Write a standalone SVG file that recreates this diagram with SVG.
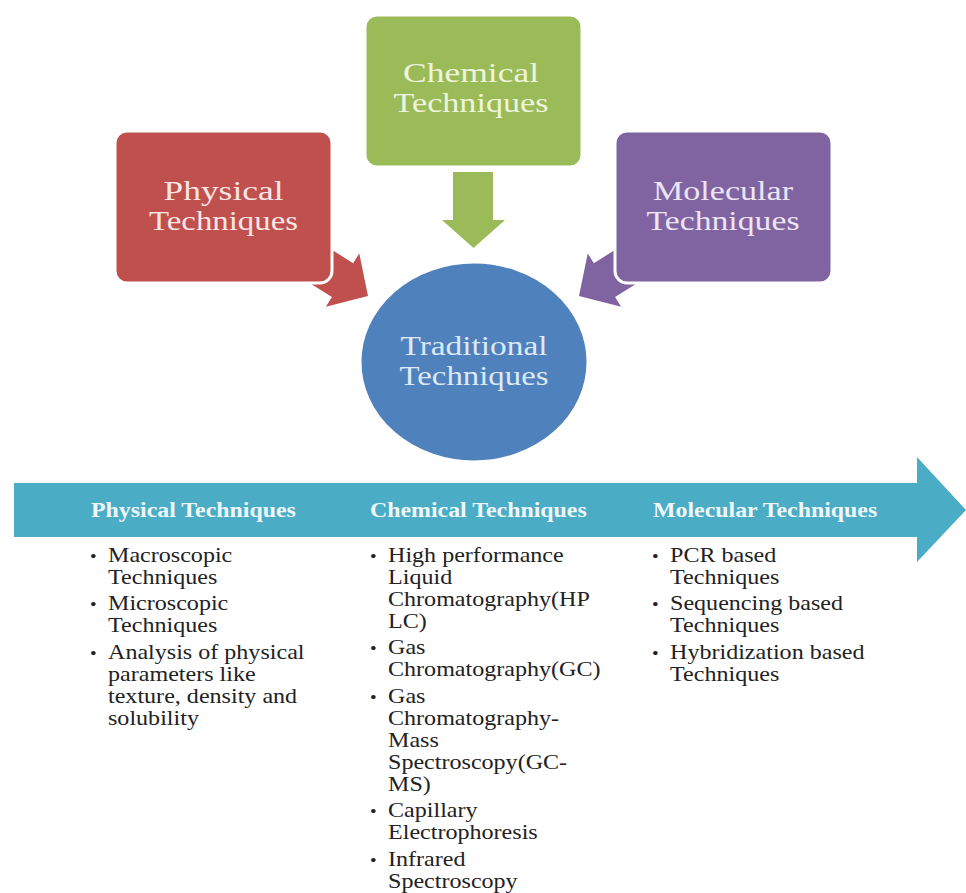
<svg xmlns="http://www.w3.org/2000/svg" width="966" height="893" viewBox="0 0 966 893">
<style>
.lbl{font-family:"Liberation Serif","Times New Roman",serif;font-size:28px;text-anchor:middle}
.hdr{font-family:"Liberation Serif","Times New Roman",serif;font-size:21.3px;font-weight:bold;fill:#eef8fb}
.lst{font-family:"Liberation Serif","Times New Roman",serif;font-size:21.5px;fill:#222}
.bul{font-size:17px}
.box{stroke:#ffffff;stroke-width:3}
</style>
<rect width="966" height="893" fill="#ffffff"/>
<g id="connectors">
  <polygon id="arrow-physical" fill="#c0504d" points="-110,-20 -30,-20 -30,-31.5 0,0 -30,31.5 -30,20 -110,20" transform="translate(368,296) rotate(32)"/>
  <polygon id="arrow-chemical" fill="#9bbb59" points="453,172 493,172 493,220 505,220 473.5,248 442,220 453,220"/>
  <polygon id="arrow-molecular" fill="#8064a2" points="-110,-20 -30,-20 -30,-31.5 0,0 -30,31.5 -30,20 -110,20" transform="translate(579,296) rotate(148)"/>
</g>
<g id="node-physical">
  <rect class="box" x="115" y="131" width="217" height="152" rx="12" fill="#c0504d"/>
  <text class="lbl" fill="#fbe6e6"><tspan x="223.5" y="200" textLength="120" lengthAdjust="spacingAndGlyphs">Physical</tspan><tspan x="223.5" y="230" textLength="149" lengthAdjust="spacingAndGlyphs">Techniques</tspan></text>
</g>
<g id="node-chemical">
  <rect class="box" x="365" y="15" width="217" height="152" rx="12" fill="#9bbb59"/>
  <text class="lbl" fill="#eef5dc"><tspan x="471" y="82" textLength="136" lengthAdjust="spacingAndGlyphs">Chemical</tspan><tspan x="471" y="112" textLength="155" lengthAdjust="spacingAndGlyphs">Techniques</tspan></text>
</g>
<g id="node-molecular">
  <rect class="box" x="615" y="131" width="217" height="152" rx="12" fill="#8064a2"/>
  <text class="lbl" fill="#ede4f5"><tspan x="723" y="200" textLength="140" lengthAdjust="spacingAndGlyphs">Molecular</tspan><tspan x="723" y="230" textLength="153" lengthAdjust="spacingAndGlyphs">Techniques</tspan></text>
</g>
<g id="node-traditional">
  <ellipse class="box" cx="474" cy="362" rx="114" ry="100" fill="#4f81bd"/>
  <text class="lbl" fill="#dde9f7"><tspan x="474" y="355" textLength="147" lengthAdjust="spacingAndGlyphs">Traditional</tspan><tspan x="474" y="385" textLength="149" lengthAdjust="spacingAndGlyphs">Techniques</tspan></text>
</g>
<g id="timeline">
  <polygon fill="#4bacc6" points="14,483 917,483 917,457 966,510 917,562 917,537 14,537"/>
  <text class="hdr" transform="translate(91,517) scale(1.12,1)">Physical Techniques</text>
  <text class="hdr" transform="translate(370,517) scale(1.12,1)">Chemical Techniques</text>
  <text class="hdr" transform="translate(653,517) scale(1.12,1)">Molecular Techniques</text>
</g>
<g id="list-physical">
  <text class="lst" transform="translate(108,0) scale(1.12,1)">
    <tspan class="bul" x="-16" y="562">•</tspan><tspan x="0" y="562">Macroscopic</tspan>
    <tspan x="0" y="584">Techniques</tspan>
    <tspan class="bul" x="-16" y="610.5">•</tspan><tspan x="0" y="610.5">Microscopic</tspan>
    <tspan x="0" y="632.5">Techniques</tspan>
    <tspan class="bul" x="-16" y="659">•</tspan><tspan x="0" y="659">Analysis of physical</tspan>
    <tspan x="0" y="681">parameters like</tspan>
    <tspan x="0" y="703">texture, density and</tspan>
    <tspan x="0" y="725">solubility</tspan>
  </text>
</g>
<g id="list-chemical">
  <text class="lst" transform="translate(388,0) scale(1.12,1)">
    <tspan class="bul" x="-16" y="562">•</tspan><tspan x="0" y="562">High performance</tspan>
    <tspan x="0" y="584">Liquid</tspan>
    <tspan x="0" y="606">Chromatography(HP</tspan>
    <tspan x="0" y="628">LC)</tspan>
    <tspan class="bul" x="-16" y="654.5">•</tspan><tspan x="0" y="654.5">Gas</tspan>
    <tspan x="0" y="676.5">Chromatography(GC)</tspan>
    <tspan class="bul" x="-16" y="703">•</tspan><tspan x="0" y="703">Gas</tspan>
    <tspan x="0" y="725">Chromatography-</tspan>
    <tspan x="0" y="747">Mass</tspan>
    <tspan x="0" y="769">Spectroscopy(GC-</tspan>
    <tspan x="0" y="791">MS)</tspan>
    <tspan class="bul" x="-16" y="817.5">•</tspan><tspan x="0" y="817.5">Capillary</tspan>
    <tspan x="0" y="839.5">Electrophoresis</tspan>
    <tspan class="bul" x="-16" y="866">•</tspan><tspan x="0" y="866">Infrared</tspan>
    <tspan x="0" y="888">Spectroscopy</tspan>
  </text>
</g>
<g id="list-molecular">
  <text class="lst" transform="translate(670,0) scale(1.12,1)">
    <tspan class="bul" x="-16" y="562">•</tspan><tspan x="0" y="562">PCR based</tspan>
    <tspan x="0" y="584">Techniques</tspan>
    <tspan class="bul" x="-16" y="610.5">•</tspan><tspan x="0" y="610.5">Sequencing based</tspan>
    <tspan x="0" y="632.5">Techniques</tspan>
    <tspan class="bul" x="-16" y="659">•</tspan><tspan x="0" y="659">Hybridization based</tspan>
    <tspan x="0" y="681">Techniques</tspan>
  </text>
</g>
</svg>
